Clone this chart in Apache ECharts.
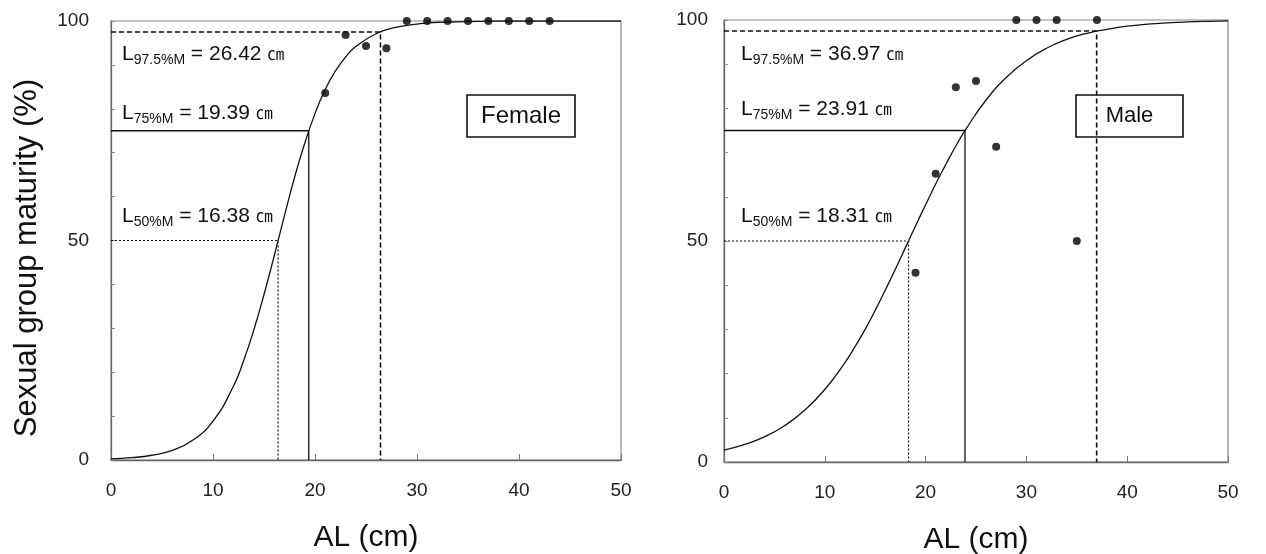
<!DOCTYPE html>
<html>
<head>
<meta charset="utf-8">
<script src="https://cdn.jsdelivr.net/npm/echarts@6/dist/echarts.min.js"></script>
<style>
  html, body { margin: 0; padding: 0; background: #fff; }
  #main { width: 1266px; height: 554px; }
</style>
</head>
<body>
<div id="main"></div>
<script>
// fitted maturity curves
var curveX = [0, 2, 4, 6, 8, 10, 12, 13, 14, 15, 16, 17, 18, 19, 20, 21, 22, 23, 24, 26, 28, 30, 32, 34, 36, 38, 40, 42, 44, 46, 48, 50];
var femaleCurve = [0.25, 0.52, 1.08, 2.21, 4.49, 8.88, 16.8, 22.6, 29.6, 37.7, 46.5, 55.6, 64.4, 72.2, 78.9, 84.4, 88.6, 91.8, 94.2, 97.1, 98.6, 99.3, 99.7, 99.8, 99.9, 100, 100, 100, 100, 100, 100, 100];
var maleCurve = [2.68, 3.92, 5.69, 8.2, 11.7, 16.4, 22.5, 26.1, 30.0, 34.3, 38.9, 43.6, 48.5, 53.4, 58.2, 62.9, 67.3, 71.5, 75.3, 81.9, 87.0, 90.8, 93.6, 95.6, 97.0, 97.9, 98.6, 99.05, 99.35, 99.56, 99.7, 99.8];

// observed points
var femaleObsX = [21, 23, 25, 27, 29, 31, 33, 35, 37, 39, 41, 43];
var femaleObsY = [83.6, 96.8, 94.3, 93.8, 100, 100, 100, 100, 100, 100, 100, 100];
var maleObsX = [19, 21, 23, 25, 27, 29, 31, 33, 35, 37];
var maleObsY = [42.8, 65.2, 84.8, 86.2, 71.3, 100, 100, 100, 50, 100];

// maturity levels and lengths
var levels = [50, 75, 97.5];
var levelNames = ['50%M', '75%M', '97.5%M'];
var femaleLengths = [16.38, 19.39, 26.42];
var maleLengths = [18.31, 23.91, 36.97];

var xTicks = [0, 10, 20, 30, 40, 50];
var yTickLabels = [0, 50, 100];

var myChart = echarts.init(document.getElementById('main'));
var font = 'Liberation Sans, Arial, sans-serif';

var pairs = function (xs, ys) {
    return xs.map(function (x, i) {
        return [x, ys[i]];
    });
};

var lineStyles = [
    {type: [2, 2], width: 1.2},
    {type: 'solid', width: 1.3},
    {type: [5, 3], width: 1.6}
];

var refSeries = function (lengths, idx) {
    return levels.map(function (lev, i) {
        return {
            type: 'line',
            xAxisIndex: idx,
            yAxisIndex: idx,
            showSymbol: false,
            silent: true,
            data: [[0, lev], [lengths[i], lev], [lengths[i], 0]],
            lineStyle: {color: '#111', type: lineStyles[i].type, width: lineStyles[i].width}
        };
    });
};

var xAxis = function (idx) {
    return {
        type: 'value',
        gridIndex: idx,
        min: 0,
        max: 50,
        interval: 10,
        name: 'AL (cm)',
        nameLocation: 'middle',
        nameGap: 63,
        nameTextStyle: {fontFamily: font, fontSize: 30, color: '#111'},
        axisLine: {lineStyle: {color: '#666', width: 1.3}},
        axisTick: {inside: true, length: 6, lineStyle: {color: '#777'}},
        axisLabel: {
            margin: 21, fontFamily: font, fontSize: 19, color: '#222',
            formatter: function (v) { return xTicks.indexOf(v) >= 0 ? v : ''; }
        },
        splitLine: {show: false}
    };
};

var yAxis = function (idx, margin) {
    return {
        type: 'value',
        gridIndex: idx,
        min: 0,
        max: 100,
        interval: 10,
        axisLine: {lineStyle: {color: '#666', width: 1.3}},
        axisTick: {inside: true, length: 4, lineStyle: {color: '#888'}},
        axisLabel: {
            margin: margin, fontFamily: font, fontSize: 19, color: '#222',
            formatter: function (v) { return yTickLabels.indexOf(v) >= 0 ? v : ''; }
        },
        splitLine: {show: false}
    };
};

var rich = {
    l: {fontFamily: font, fontSize: 21, lineHeight: 26, verticalAlign: 'middle', fill: '#111'},
    s: {fontFamily: font, fontSize: 14, lineHeight: 16, verticalAlign: 'bottom', fill: '#111'},
    u: {fontFamily: 'Noto Sans CJK KR', fontSize: 17, lineHeight: 26, verticalAlign: 'middle', fill: '#111'}
};

var labelText = function (i, lengths) {
    return '{l|L}{s|' + levelNames[i] + '}{l| = ' + lengths[i].toFixed(2) + ' }{u|㎝}';
};

var labelGraphics = function (lengths, left, centers) {
    return levels.map(function (lev, i) {
        return {
            type: 'text',
            x: left,
            y: centers[i],
            silent: true,
            style: {text: labelText(i, lengths), rich: rich, verticalAlign: 'middle'}
        };
    });
};

var boxGraphic = function (text, left, top, w, h, size) {
    return {
        type: 'group',
        x: left,
        y: top,
        children: [{
            type: 'rect',
            shape: {x: 0, y: 0, width: w, height: h},
            style: {fill: '#fff', stroke: '#111', lineWidth: 1.6}
        }, {
            type: 'text',
            x: w / 2,
            y: h / 2,
            style: {text: text, fontFamily: font, fontSize: size, fill: '#111', align: 'center', verticalAlign: 'middle'}
        }]
    };
};

var option = {
    animation: false,
    grid: [
        {left: 111, right: 645, top: 21, bottom: 94, show: true, borderColor: '#888', borderWidth: 1.2, outerBoundsMode: 'none', containLabel: false},
        {left: 724, right: 38, top: 20, bottom: 92, show: true, borderColor: '#888', borderWidth: 1.2, outerBoundsMode: 'none', containLabel: false}
    ],
    xAxis: [xAxis(0), xAxis(1)],
    yAxis: [yAxis(0, 22), yAxis(1, 16)],
    graphic: [
        {
            type: 'text',
            x: 27,
            y: 258,
            rotation: Math.PI / 2,
            style: {text: 'Sexual group maturity (%)', fontFamily: font, fontSize: 31, fill: '#111', align: 'center', verticalAlign: 'middle'}
        },
        boxGraphic('Female', 467, 95, 108, 42, 24),
        boxGraphic('Male', 1076, 95, 107, 42, 22)
    ].concat(labelGraphics(femaleLengths, 122, [216, 113, 54]))
        .concat(labelGraphics(maleLengths, 741, [216, 109, 54])),
    series: [
        {
            type: 'line',
            xAxisIndex: 0,
            yAxisIndex: 0,
            smooth: true,
            showSymbol: false,
            data: pairs(curveX, femaleCurve),
            lineStyle: {color: '#111', width: 1.3}
        },
        {
            type: 'line',
            xAxisIndex: 1,
            yAxisIndex: 1,
            smooth: true,
            showSymbol: false,
            data: pairs(curveX, maleCurve),
            lineStyle: {color: '#111', width: 1.3}
        },
        {
            type: 'scatter',
            xAxisIndex: 0,
            yAxisIndex: 0,
            clip: false,
            symbolSize: 8,
            itemStyle: {color: '#000'},
            data: pairs(femaleObsX, femaleObsY)
        },
        {
            type: 'scatter',
            xAxisIndex: 1,
            yAxisIndex: 1,
            clip: false,
            symbolSize: 8,
            itemStyle: {color: '#000'},
            data: pairs(maleObsX, maleObsY)
        }
    ].concat(refSeries(femaleLengths, 0)).concat(refSeries(maleLengths, 1))
};
myChart.setOption(option);
</script>
</body>
</html>
